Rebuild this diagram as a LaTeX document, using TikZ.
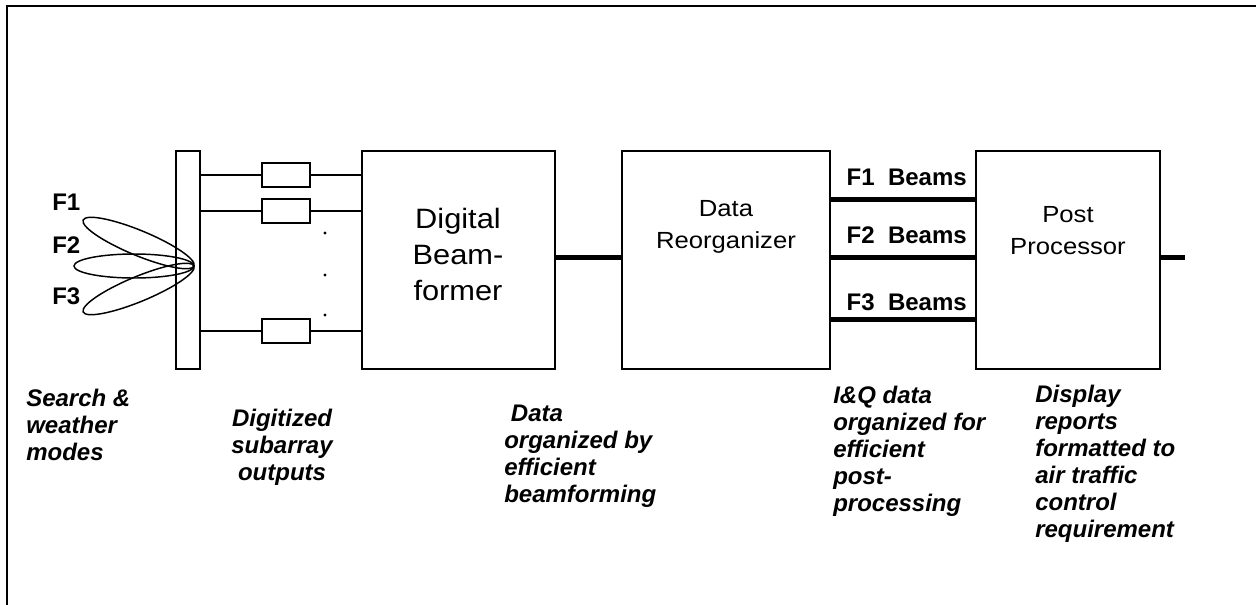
\documentclass[tikz,border=0pt]{standalone}
\usepackage{fontspec}
\setmainfont{Liberation Sans}
\newfontfamily\boxfont{Liberation Sans}[FakeStretch=1.1]
\usetikzlibrary{positioning}

\tikzset{
  block/.style={draw, line width=1.2pt, minimum height=163.5pt, inner sep=0pt},
  adc/.style={draw, line width=1.1pt, minimum width=36pt, minimum height=18pt, inner sep=0pt},
  wire/.style={line width=1.1pt},
  bus/.style={line width=3.75pt},
  lobe/.style={line width=1.1pt},
  bigtext/.style={font=\boxfont\fontsize{21}{27}\selectfont, align=center, inner sep=0pt},
  blocktext/.style={font=\boxfont\fontsize{17.5}{24}\selectfont, align=center, inner sep=0pt},
  flabel/.style={font=\bfseries\fontsize{18}{20}\selectfont, inner sep=0pt},
  note/.style={font=\bfseries\itshape\fontsize{18}{20.25}\selectfont, inner sep=0pt},
}

\begin{document}
\begin{tikzpicture}[x=0.75pt, y=-0.75pt, node distance=27pt, on grid]
\useasboundingbox (0,0) rectangle (1256,604);
\draw[line width=1.6pt] (7,612) -- (7,6) -- (1262,6);

% antenna face and the three frequency lobes
\node[block, minimum width=18pt] (bar) at (188,260) {};
\draw[lobe, rotate around={-22.5:(138.6,243)}] (138.6,243) ellipse [x radius=60, y radius=12.5];
\draw[lobe] (134,266) ellipse [x radius=60, y radius=12];
\draw[lobe, rotate around={22.5:(138.6,289)}] (138.6,289) ellipse [x radius=60, y radius=12.5];
\node[flabel, anchor=base west] (f1) at (52,210) {F1};
\node[flabel, anchor=base west] (f2) at (52,253) {F2};
\node[flabel, anchor=base west] (f3) at (52,304) {F3};

% subarray converters
\node[adc] (adc1) at (286,175) {};
\node[adc, below=of adc1] (adc2) {};
\node[adc, below=90pt of adc2] (adc3) {};
\foreach \y in {233,275,315}
  \fill (325,\y) circle (1.2pt);

\node[block, minimum width=144.75pt] (bf) at (458.5,260) {};
\node[block, minimum width=156pt] (reorg) at (726,260) {};
\node[block, minimum width=138pt] (post) at (1068,260) {};

% multi-line text: base is the last line
\node[bigtext, anchor=base] (bftext) at (458,300) {Digital\\Beam-\\former};
\node[blocktext, anchor=base] (reorgtext) at (726,248) {Data\\Reorganizer};
\node[blocktext, anchor=base] (posttext) at (1068,254) {Post\\Processor};

\foreach \i in {1,2,3}
  \draw[wire] (bar.east |- adc\i) -- (adc\i.west) (adc\i.east) -- (bf.west |- adc\i);

\coordinate (b1) at (0,199);
\coordinate (b2) at (0,257);
\coordinate (b3) at (0,319);
\coordinate (out) at (1185,257);
\draw[bus] (bf.east |- b2) -- (reorg.west |- b2);
\draw[bus] (reorg.east |- b1) -- (post.west |- b1);
\draw[bus] (reorg.east |- b2) -- (post.west |- b2);
\draw[bus] (reorg.east |- b3) -- (post.west |- b3);
\draw[bus] (post.east |- out) -- (out);

\node[flabel, anchor=base east] (beams1) at (967,185) {F1\ \ Beams};
\node[flabel, anchor=base east] (beams2) at (967,243) {F2\ \ Beams};
\node[flabel, anchor=base east] (beams3) at (967,310) {F3\ \ Beams};

% captions under each stage
\node[note, anchor=base west, align=left] (modes) at (26,460) {Search \&\\weather\\modes};
\node[note, anchor=base, align=center] (outputs) at (282,480) {Digitized\\subarray\\outputs};
\node[note, anchor=base west, align=left] (bfdata) at (504,502) {\hspace*{5pt}Data\\organized by\\efficient\\beamforming};
\node[note, anchor=base west, align=left] (iqdata) at (833,511) {I\&Q data\\organized for\\efficient\\post-\\processing};
\node[note, anchor=base west, align=left] (reports) at (1035,537) {Display\\reports\\formatted to\\air traffic\\control\\requirement};
\end{tikzpicture}
\end{document}
